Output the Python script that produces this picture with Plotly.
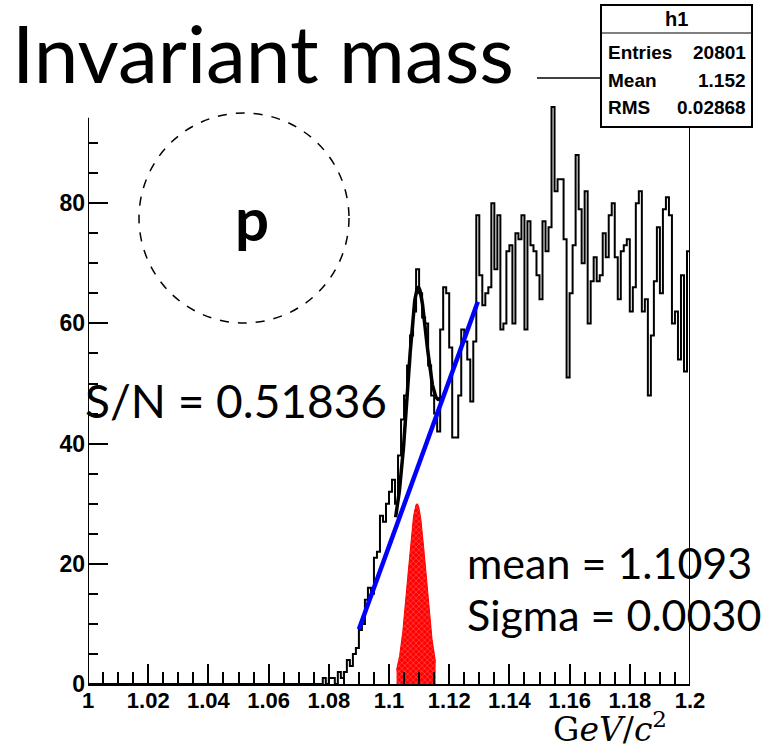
import numpy as np
import plotly.graph_objects as go

# ---------------- data ----------------
bin_low = 1.0
bin_width = 0.001
counts = [
    0, 0, 0, 0, 0, 0, 0, 0, 0, 0, 0, 0, 0, 0, 0, 0, 0, 0, 0, 0,
    0, 0, 0, 0, 0, 0, 0, 0, 0, 0, 0, 0, 0, 0, 0, 0, 0, 0, 0, 0,
    0, 0, 0, 0, 0, 0, 0, 0, 0, 0, 0, 0, 0, 0, 0, 0, 0, 0, 0, 0,
    0, 0, 0, 0, 0, 0, 0, 0, 0, 0, 0, 0, 0, 0, 0, 0, 0, 0, 1, 0,
    1, 1, 0, 2, 1, 2, 4, 3, 5, 6, 9, 10, 14, 16, 15, 21, 22, 28, 27, 30,
    32, 34, 30, 38, 44, 48, 53, 58, 62, 69, 65, 61, 60, 53, 48, 45, 42, 59, 66, 65,
    56, 41, 41, 48, 59, 57, 54, 47, 57, 78, 68, 63, 65, 66, 80, 69, 78, 59, 60, 72,
    73, 60, 75, 74, 78, 59, 77, 73, 72, 68, 64, 77, 72, 76, 96, 82, 84, 84, 74, 51,
    65, 73, 88, 79, 70, 82, 60, 67, 71, 67, 68, 75, 71, 78, 80, 71, 64, 72, 73, 74,
    62, 66, 80, 82, 62, 64, 48, 58, 67, 76, 65, 79, 81, 78, 60, 62, 54, 68, 52, 72,
]

# fit (gaussian signal + linear background)
fit_mean = 1.1093
fit_sigma = 0.0030
fit_amp = 30.0
bg_x_ref = 1.09
bg_at_ref = 9.1
bg_slope = 1380.0
total_fit_range = [1.1022, 1.1172]
bg_fit_range = [1.0900, 1.1295]
signal_fill_range = [1.1025, 1.1155]

x_tick_vals = [1.0, 1.02, 1.04, 1.06, 1.08, 1.1, 1.12, 1.14, 1.16, 1.18, 1.2]
x_tick_text = ["1", "1.02", "1.04", "1.06", "1.08", "1.1", "1.12", "1.14", "1.16", "1.18", "1.2"]
y_tick_vals = [0, 20, 40, 60, 80]
y_tick_text = ["0", "20", "40", "60", "80"]
y_minor_vals = [5, 10, 15, 25, 30, 35, 45, 50, 55, 65, 70, 75, 85, 90]
y_frame_top = 94.2

stats_name = "h1"
stats_rows = [("Entries", "20801"), ("Mean", "1.152"), ("RMS", "0.02868")]

# ---------------- helpers ----------------
W, H = 765, 754
PL, PR, PT, PB = 88, 690, 83, 684


def px(x):
    return (x - PL) / (PR - PL)


def py(y):
    return (PB - y) / (PB - PT)


def gauss(x):
    return fit_amp * np.exp(-0.5 * ((x - fit_mean) / fit_sigma) ** 2)


def bg(x):
    return bg_at_ref + bg_slope * (x - bg_x_ref)


edges = [bin_low + i * bin_width for i in range(len(counts))]
hx = edges + [edges[-1] + bin_width, edges[-1] + bin_width]
hy = counts + [counts[-1], 0]

fig = go.Figure()

# red signal area
xs = np.linspace(signal_fill_range[0], signal_fill_range[1], 200)
fig.add_trace(go.Scatter(
    x=xs, y=gauss(xs), mode="lines", fill="tozeroy",
    line=dict(color="red", width=1),
    fillcolor="red",
    fillpattern=dict(shape="x", bgcolor="red", fgcolor="rgba(255,225,225,0.9)", size=4, solidity=0.25),
    hoverinfo="skip", showlegend=False,
))

# histogram
fig.add_trace(go.Scatter(
    x=hx, y=hy, mode="lines", line=dict(color="black", width=2, shape="hv"),
    showlegend=False,
))

# total fit
xt = np.linspace(total_fit_range[0], total_fit_range[1], 200)
fig.add_trace(go.Scatter(
    x=xt, y=gauss(xt) + bg(xt), mode="lines", line=dict(color="black", width=3.5),
    showlegend=False,
))

# background line
xb = np.array(bg_fit_range)
fig.add_trace(go.Scatter(
    x=xb, y=bg(xb), mode="lines", line=dict(color="blue", width=4.5),
    showlegend=False,
))

tick_font = dict(family="Liberation Sans, Arial, sans-serif", size=22, color="black", weight="bold")

fig.update_layout(
    width=W, height=H,
    margin=dict(l=PL, r=W - PR, t=PT, b=H - PB),
    paper_bgcolor="white", plot_bgcolor="rgba(0,0,0,0)",
    showlegend=False,
    xaxis=dict(
        range=[1.0, 1.2], showgrid=False, zeroline=False,
        showline=True, linecolor="black", linewidth=2,
        ticks="inside", ticklen=20, tickwidth=1.5, tickcolor="black",
        tickvals=x_tick_vals, ticktext=x_tick_text, tickfont=tick_font,
        ticklabelstandoff=-4,
        minor=dict(dtick=0.005, tick0=1.0, ticks="inside", ticklen=12, tickwidth=1.5, tickcolor="black"),
    ),
    yaxis=dict(
        range=[0, 100], showgrid=False, zeroline=False, showline=False,
        ticks="inside", ticklen=20, tickwidth=1.5, tickcolor="black",
        tickvals=y_tick_vals, ticktext=y_tick_text,
        ticklabelstandoff=2,
        tickfont=dict(family="Liberation Sans, Arial, sans-serif", size=23, color="black", weight="bold"),
        minor=dict(tickvals=y_minor_vals, ticks="inside", ticklen=10, tickwidth=1.5, tickcolor="black"),
    ),
)

shapes = []
# frame lines (left axis and right frame)
shapes.append(dict(type="line", xref="x", yref="y", x0=1.0, x1=1.0, y0=0, y1=y_frame_top,
                   line=dict(color="black", width=2)))
shapes.append(dict(type="line", xref="x", yref="y", x0=1.2, x1=1.2, y0=0, y1=y_frame_top,
                   line=dict(color="black", width=2)))
# dashed circle
shapes.append(dict(type="circle", xref="paper", yref="paper",
                   x0=px(139), x1=px(349), y0=py(323), y1=py(113),
                   line=dict(color="black", width=1.5, dash="dash")))
# connector line from title to stats box
shapes.append(dict(type="line", xref="paper", yref="paper",
                   x0=px(537), x1=px(601), y0=py(78), y1=py(78),
                   line=dict(color="black", width=1.5)))
# stats box
shapes.append(dict(type="rect", xref="paper", yref="paper",
                   x0=px(601), x1=px(752), y0=py(127), y1=py(5),
                   fillcolor="white", line=dict(color="black", width=2), layer="above"))
shapes.append(dict(type="line", xref="paper", yref="paper",
                   x0=px(601), x1=px(752), y0=py(33), y1=py(33),
                   line=dict(color="black", width=1), layer="above"))
fig.update_layout(shapes=shapes)

stat_font = dict(family="Liberation Sans, Arial, sans-serif", size=19, color="black", weight="bold")
ann = []
ann.append(dict(text=stats_name, x=px(676), y=py(19), xref="paper", yref="paper",
                xanchor="center", yanchor="middle", showarrow=False,
                font=dict(family="Liberation Sans, Arial, sans-serif", size=20, color="black", weight="bold")))
row_y = [52, 80, 108]
for (lab, val), yy in zip(stats_rows, row_y):
    ann.append(dict(text=lab, x=px(606), y=py(yy), xref="paper", yref="paper",
                    xanchor="left", yanchor="middle", showarrow=False, font=stat_font))
    ann.append(dict(text=val, x=px(748), y=py(yy), xref="paper", yref="paper",
                    xanchor="right", yanchor="middle", showarrow=False, font=stat_font))

slide_font = "Lato, Carlito, Open Sans, sans-serif"
ann.append(dict(text="Invariant mass", x=px(10), y=py(52), xref="paper", yref="paper",
                xanchor="left", yanchor="middle", showarrow=False,
                font=dict(family=slide_font, size=80, color="black")))
ann.append(dict(text="S/N = 0.51836", x=px(83), y=py(400), xref="paper", yref="paper",
                xanchor="left", yanchor="middle", showarrow=False,
                font=dict(family=slide_font, size=46, color="black")))
ann.append(dict(text="mean = 1.1093", x=px(465), y=py(562), xref="paper", yref="paper",
                xanchor="left", yanchor="middle", showarrow=False,
                font=dict(family=slide_font, size=43, color="black")))
ann.append(dict(text="Sigma = 0.0030", x=px(465), y=py(614), xref="paper", yref="paper",
                xanchor="left", yanchor="middle", showarrow=False,
                font=dict(family=slide_font, size=43, color="black")))
ann.append(dict(text="p", x=px(252), y=py(218), xref="paper", yref="paper",
                xanchor="center", yanchor="middle", showarrow=False,
                font=dict(family=slide_font, size=60, color="black", weight="bold")))
ann.append(dict(text="G<i>eV</i>/<i>c</i><sup>2</sup>", x=px(610), y=py(727), xref="paper", yref="paper",
                xanchor="center", yanchor="middle", showarrow=False,
                font=dict(family="DejaVu Serif, Liberation Serif, serif", size=33, color="black")))
fig.update_layout(annotations=ann)

fig.write_html("out.html")
